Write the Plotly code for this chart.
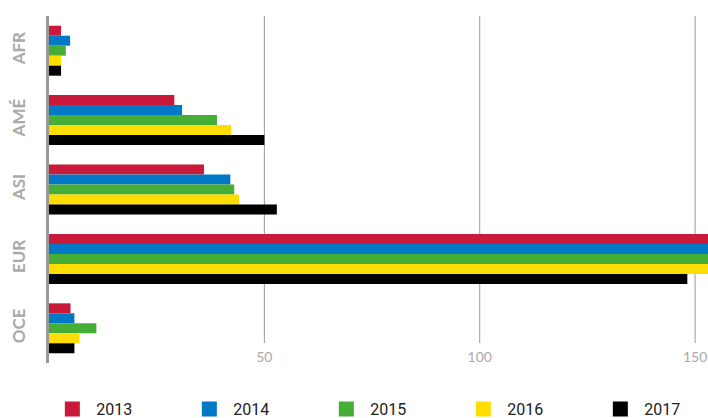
import plotly.graph_objects as go

regions = ["AFR", "AMÉ", "ASI", "EUR", "OCE"]
years = ["2013", "2014", "2015", "2016", "2017"]
colors = ["#C91A3B", "#0078C6", "#46AE37", "#FFDD00", "#000000"]
values = {
    "2013": [2.8, 29.1, 36.0, 160.0, 5.0],
    "2014": [4.9, 30.9, 42.1, 162.0, 5.9],
    "2015": [3.9, 39.0, 43.0, 164.0, 11.0],
    "2016": [2.8, 42.3, 44.1, 163.0, 7.1],
    "2017": [2.8, 50.0, 52.9, 148.2, 5.9],
}
x_ticks = [50, 100, 150]

W, H = 708, 418
ml, mr, mt, mb = 49, 0, 16, 55
plot_w = W - ml - mr
plot_h = H - mt - mb
grid_bottom_px = 343
grid_y0 = (H - mb - grid_bottom_px) / plot_h
legend_y_px = 409

fig = go.Figure()
for yr, col in zip(years, colors):
    fig.add_trace(go.Bar(
        y=regions, x=values[yr], name=yr, orientation="h",
        marker=dict(color=col, line=dict(width=0)),
        showlegend=False,
    ))
# legend entries with square swatches
for yr, col in zip(years, colors):
    fig.add_trace(go.Scatter(
        x=[None], y=[None], mode="markers", name=yr,
        marker=dict(color=col, symbol="square", size=15),
        showlegend=True,
    ))

for t in x_ticks:
    fig.add_shape(type="line", xref="x", yref="paper", x0=t, x1=t,
                  y0=grid_y0, y1=1, line=dict(color="#999999", width=1),
                  layer="below")

fig.update_layout(
    width=W, height=H,
    margin=dict(l=ml, r=mr, t=mt, b=mb, autoexpand=False),
    plot_bgcolor="white", paper_bgcolor="white",
    barmode="group", bargap=0.28, bargroupgap=0,
    font=dict(family="Lato, sans-serif"),
    showlegend=True,
    legend=dict(
        orientation="h", x=-0.001, xanchor="left",
        y=(H - mb - legend_y_px) / plot_h, yanchor="middle",
        itemwidth=38, entrywidth=84, entrywidthmode="pixels",
        font=dict(size=16, color="#222222", family="Roboto, sans-serif"),
        traceorder="normal",
    ),
    xaxis=dict(
        range=[0, 153], showgrid=False, zeroline=False, showline=False,
        tickmode="array", tickvals=x_ticks, ticktext=[str(v) for v in x_ticks],
        tickfont=dict(size=14, color="#aaaaaa"), ticklabelstandoff=4,
        anchor="free", position=grid_y0, automargin=False,
    ),
    yaxis=dict(
        categoryorder="array", categoryarray=regions, autorange="reversed",
        showgrid=False, zeroline=False,
        showline=True, linecolor="#999999", linewidth=3,
        tickangle=-90, automargin=False, ticklabelstandoff=14,
        tickfont=dict(size=17, color="#aaaaaa", family="Lato, sans-serif", weight="bold"),
    ),
)

fig.write_html(
    "out.html",
    config={"displayModeBar": False},
    post_script="document.body.style.margin='0';document.body.style.overflow='hidden';",
)
